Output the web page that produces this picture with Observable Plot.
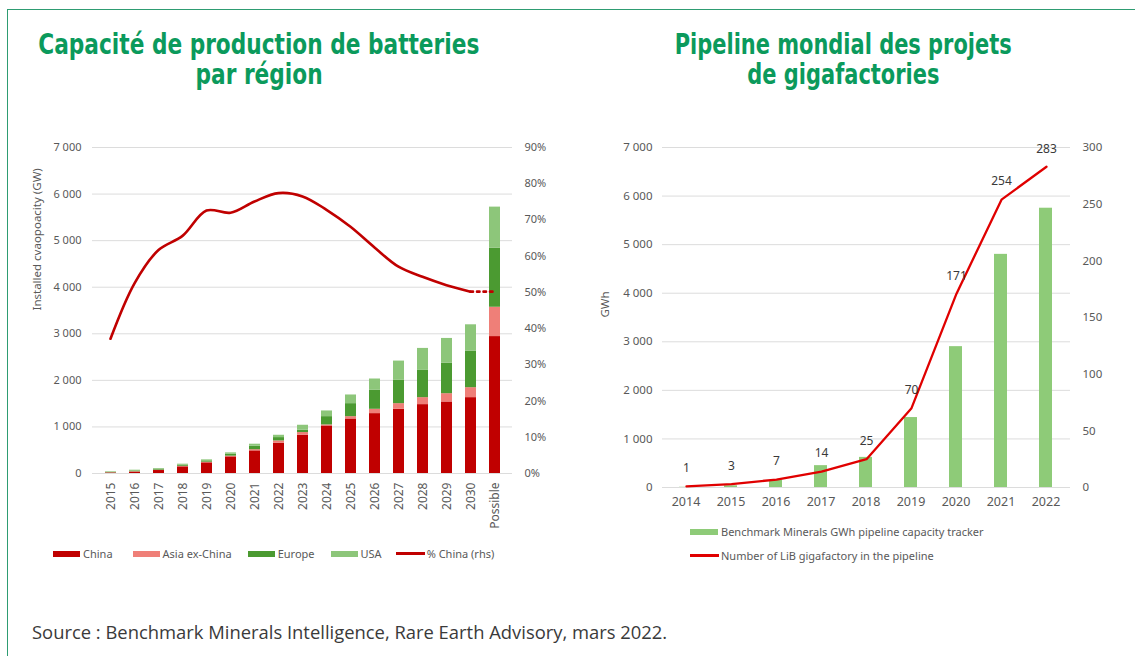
<!DOCTYPE html>
<html><head><meta charset="utf-8">
<script src="https://cdn.jsdelivr.net/npm/d3@7"></script>
<script src="https://cdn.jsdelivr.net/npm/@observablehq/plot@0.6"></script>
<style>
body{margin:0;background:#fff;width:1135px;height:656px;overflow:hidden;position:relative;font-family:"Noto Sans",sans-serif}
#frame{position:absolute;left:7px;top:9px;width:1140px;height:700px;border-left:1px solid #2e9c72;border-top:1px solid #2e9c72}
.title{position:absolute;color:#0b9a5c;font-family:"DejaVu Sans",sans-serif;font-weight:bold;font-size:28px;line-height:30px;text-align:center;white-space:nowrap}
.title span{display:inline-block;transform-origin:50% 50%}
.chart{position:absolute}
.legend{position:absolute;font-size:11px;color:#595959;display:flex;align-items:center;white-space:nowrap;font-family:"Noto Sans",sans-serif}
.sw{display:inline-block;width:27px;height:6px;margin-right:3px}
.ln{display:inline-block;width:29px;height:2.5px;margin-right:2px}
#source{position:absolute;left:32px;top:619px;font-family:"Open Sans",sans-serif;font-weight:400;font-size:18.4px;color:#3a3a3a;white-space:nowrap}
</style></head><body>
<div id="frame"></div>
<div class="title" id="t1" style="left:-141px;width:800px;top:30px"><span>Capacité de production de batteries</span><br><span>par région</span></div>
<div class="title" id="t2" style="left:443px;width:800px;top:30px"><span>Pipeline mondial des projets</span><br><span>de gigafactories</span></div>
<div id="left-bars" class="chart" style="left:0;top:130px"></div>
<div id="left-line" class="chart" style="left:0;top:130px"></div>
<div id="right-bars" class="chart" style="left:560px;top:130px"></div>
<div id="right-line" class="chart" style="left:560px;top:130px"></div>
<div id="left-legend" class="legend" style="left:53px;top:546px"></div>
<div id="right-legend1" class="legend" style="left:690px;top:524px"></div>
<div id="right-legend2" class="legend" style="left:690px;top:548px"></div>
<div id="source">Source : Benchmark Minerals Intelligence, Rare Earth Advisory, mars 2022.</div>
<script>
// ---------- Left chart data ----------
const regionYears = ["2015","2016","2017","2018","2019","2020","2021","2022","2023","2024","2025","2026","2027","2028","2029","2030","Possible"];
const regions = ["China","Asia ex-China","Europe","USA"];
const china       = [12, 30, 64, 143, 229, 357, 486, 650, 821, 1021, 1171, 1286, 1379, 1479, 1536, 1629, 2940];
const asiaExChina = [4, 8, 8, 12, 14, 16, 25, 50, 58, 22, 50, 93, 121, 150, 178, 214, 630];
const europe      = [6, 16, 20, 25, 28, 42, 75, 71, 50, 178, 279, 407, 500, 585, 657, 786, 1270];
const usa         = [14, 17, 15, 20, 22, 28, 43, 50, 107, 122, 186, 243, 414, 472, 529, 564, 880];
const pctYears    = ["2015","2016","2017","2018","2019","2020","2021","2022","2023","2024","2025","2026","2027","2028","2029","2030"];
const pctChina    = [37.2, 52.5, 61.7, 65.6, 72.6, 72.0, 75.1, 77.4, 76.5, 72.8, 68.1, 62.4, 57.1, 54.3, 52.0, 50.2];
const pctDottedYears = ["2030","Possible"];
const pctDotted      = [50.2, 50.2];
const leftYTicks = [0,1000,2000,3000,4000,5000,6000,7000];
const leftPctTicks = [0,10,20,30,40,50,60,70,80,90];
const leftYLabel = "Installed cvaopoacity (GW)";
const lineLegendLabel = "% China (rhs)";

// ---------- Right chart data ----------
const pipelineYears = ["2014","2015","2016","2017","2018","2019","2020","2021","2022"];
const pipelineGWh   = [5, 35, 150, 450, 620, 1440, 2900, 4800, 5750];
const gigafactories = [1, 3, 7, 14, 25, 70, 171, 254, 283];
const rightYTicks = [0,1000,2000,3000,4000,5000,6000,7000];
const rightCountTicks = [0,50,100,150,200,250,300];
const rightYLabel = "GWh";
const barLegendLabel = "Benchmark Minerals GWh pipeline capacity tracker";
const countLegendLabel = "Number of LiB gigafactory in the pipeline";

// ---------- title fitting (condensed look) ----------
function fitTitle(id, targetWidth) {
  const spans = document.querySelectorAll(`#${id} span`);
  const w = spans[0].getBoundingClientRect().width;
  const k = targetWidth / w;
  spans.forEach(s => s.style.transform = `scaleX(${k})`);
}
fitTitle("t1", 441);
fitTitle("t2", 337);

// ---------- styles ----------
const regionColors = ["#c00000","#ef7f78","#4b9a31","#8dc67a"];
const lineRed = "#c00000";
const pipeGreen = "#8ecb78";
const pipeRed = "#e00000";
const grid = "#dcdcdc";
const axisColor = "#595959";
const sp = d => d3.format(",")(d).replace(/,/g, "\u00a0");

const baseStyle = {fontFamily: "Noto Sans, sans-serif", fontSize: "11px", color: axisColor, background: "transparent", overflow: "visible"};

const regionRows = [];
regionYears.forEach((y, i) => {
  [china, asiaExChina, europe, usa].forEach((arr, j) => regionRows.push({year: y, region: regions[j], value: arr[i]}));
});
const pctRows = pctYears.map((y, i) => ({year: y, pct: pctChina[i]}));
const dotRows = pctDottedYears.map((y, i) => ({year: y, pct: pctDotted[i]}));

const L = {width: 560, height: 410, marginTop: 17, marginBottom: 67, marginLeft: 92, marginRight: 48};
const leftX = {domain: regionYears, paddingInner: 0.56, paddingOuter: 0.28, label: null};

document.getElementById("left-bars").append(Plot.plot({
  ...L, style: baseStyle,
  x: leftX,
  y: {domain: [0, 7000], label: null},
  color: {domain: regions, range: regionColors},
  marks: [
    Plot.gridY(leftYTicks, {stroke: grid, strokeOpacity: 1, strokeWidth: 1}),
    Plot.barY(regionRows, {x: "year", y: "value", fill: "region"}),
    Plot.axisY(leftYTicks, {tickSize: 0, tickPadding: 11, tickFormat: sp, fontSize: 11}),
    Plot.axisX({tickSize: 0, tickRotate: -90, tickPadding: 9, fontSize: 12}),
    Plot.text([leftYLabel], {frameAnchor: "left", rotate: -90, dx: -55, fontSize: 11.5, fill: axisColor})
  ]
}));

document.getElementById("left-line").append(Plot.plot({
  ...L, style: baseStyle,
  x: leftX,
  y: {domain: [0, 90], label: null},
  marks: [
    Plot.axisX({ticks: [], label: null}),
    Plot.axisY(leftPctTicks, {anchor: "right", tickSize: 0, tickPadding: 12, tickFormat: d => d + "%", fontSize: 11}),
    Plot.line(pctRows, {x: "year", y: "pct", curve: "catmull-rom", stroke: lineRed, strokeWidth: 2.6}),
    Plot.line(dotRows, {x: "year", y: "pct", stroke: lineRed, strokeWidth: 2.6, strokeDasharray: "2.5,4"})
  ]
}));

const R = {width: 575, height: 390, marginTop: 17, marginBottom: 33, marginLeft: 102, marginRight: 65};
const rightX = {domain: pipelineYears, paddingInner: 0.71, paddingOuter: 0.355, label: null};

document.getElementById("right-bars").append(Plot.plot({
  ...R, style: baseStyle,
  x: rightX,
  y: {domain: [0, 7000], label: null},
  marks: [
    Plot.gridY(rightYTicks, {stroke: grid, strokeOpacity: 1, strokeWidth: 1}),
    Plot.barY(pipelineYears.map((y, i) => ({year: y, gwh: pipelineGWh[i]})), {x: "year", y: "gwh", fill: pipeGreen}),
    Plot.axisY(rightYTicks, {tickSize: 0, tickPadding: 10, tickFormat: sp, fontSize: 11.5}),
    Plot.axisX({tickSize: 0, tickPadding: 10, fontSize: 12.5}),
    Plot.text([rightYLabel], {frameAnchor: "left", rotate: -90, dx: -57, dy: 0, fontSize: 11.5, fill: axisColor})
  ]
}));

const countRows = pipelineYears.map((y, i) => ({year: y, n: gigafactories[i]}));
document.getElementById("right-line").append(Plot.plot({
  ...R, style: baseStyle,
  x: rightX,
  y: {domain: [0, 300], label: null},
  marks: [
    Plot.axisX({ticks: [], label: null}),
    Plot.axisY(rightCountTicks, {anchor: "right", tickSize: 0, tickPadding: 12, fontSize: 11.5}),
    Plot.line(countRows, {x: "year", y: "n", stroke: pipeRed, strokeWidth: 2.3}),
    Plot.text(countRows, {x: "year", y: "n", text: d => String(d.n), dy: -18, fontSize: 12, fill: "#3a3a3a"})
  ]
}));

// ---------- legends ----------
const ll = document.getElementById("left-legend");
regions.forEach((r, i) => {
  const item = document.createElement("span");
  item.style.display = "inline-flex"; item.style.alignItems = "center";
  item.style.marginRight = ["20px","16px","16px","14px"][i];
  item.innerHTML = `<span class="sw" style="background:${regionColors[i]}"></span>${r}`;
  ll.append(item);
});
const lineItem = document.createElement("span");
lineItem.style.display = "inline-flex"; lineItem.style.alignItems = "center";
lineItem.innerHTML = `<span class="ln" style="background:${lineRed}"></span>${lineLegendLabel}`;
ll.append(lineItem);

document.getElementById("right-legend1").innerHTML = `<span class="sw" style="background:${pipeGreen};width:28px"></span>${barLegendLabel}`;
document.getElementById("right-legend2").innerHTML = `<span class="ln" style="background:${pipeRed};width:29px"></span>${countLegendLabel}`;
</script>
</body></html>
